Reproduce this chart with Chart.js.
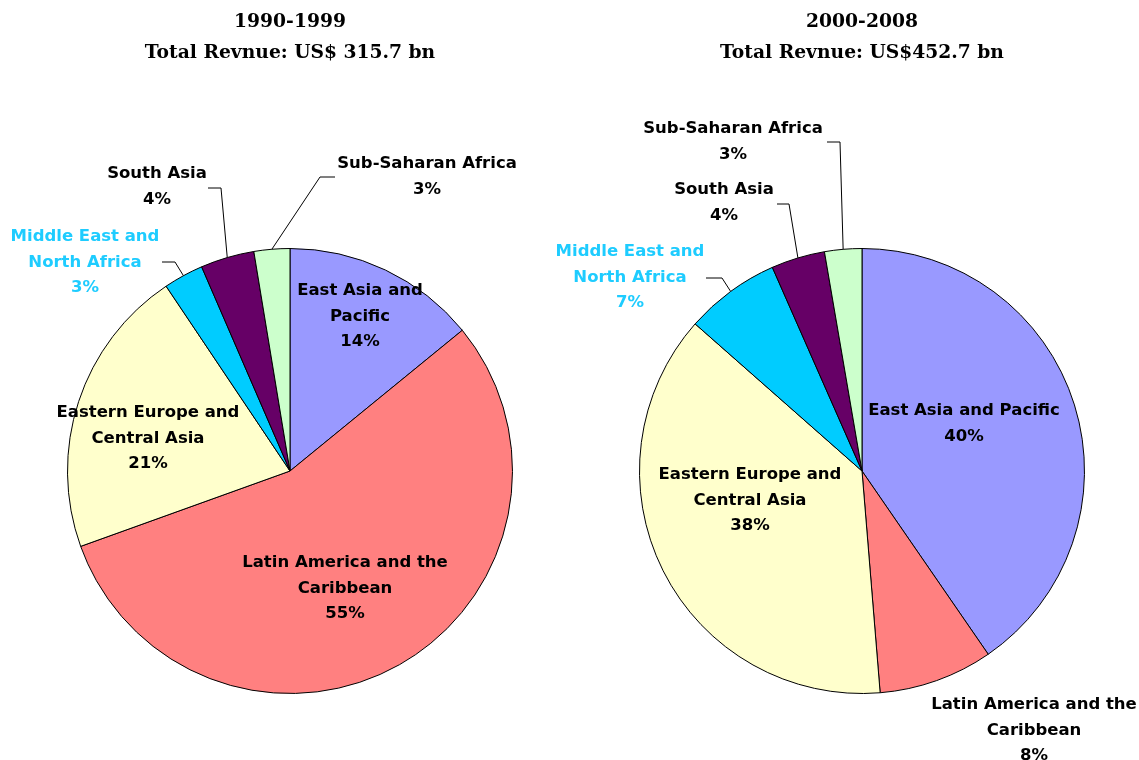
<!DOCTYPE html>
<html>
<head>
<meta charset="utf-8">
<script src="https://cdn.jsdelivr.net/npm/chart.js@4/dist/chart.umd.min.js"></script>
<style>
  html, body { margin: 0; padding: 0; background: #ffffff; }
  #wrap { position: relative; width: 1139px; height: 760px; overflow: hidden; }
  canvas { position: absolute; left: 0; top: 0; }
</style>
</head>
<body>
<div id="wrap">
  <canvas id="c1" width="1139" height="760"></canvas>
  <canvas id="c2" width="1139" height="760"></canvas>
</div>
<script>
// ---- data ----
const categories = ['East Asia and Pacific', 'Latin America and the Caribbean', 'Eastern Europe and Central Asia', 'Middle East and North Africa', 'South Asia', 'Sub-Saharan Africa'];
const shares1990 = [14.1, 55.4, 21.1, 2.9, 3.9, 2.6];
const shares2000 = [40.4, 8.3, 37.8, 6.9, 3.9, 2.7];
const title1990 = ['1990-1999', 'Total Revnue: US$ 315.7 bn'];
const title2000 = ['2000-2008', 'Total Revnue: US$452.7 bn'];
const sliceColors = ['#9999FF', '#FF8080', '#FFFFCC', '#00CCFF', '#660066', '#CCFFCC'];
const labelColors = ['#000000', '#000000', '#000000', '#1ECCFF', '#000000', '#000000'];

// ---- label layout (positions only) ----
const layout1990 = [
  { lines: ['East Asia and', 'Pacific'], x: 360, y: 291 },
  { lines: ['Latin America and the', 'Caribbean'], x: 345, y: 563 },
  { lines: ['Eastern Europe and', 'Central Asia'], x: 148, y: 413 },
  { lines: ['Middle East and', 'North Africa'], x: 85, y: 237, leader: [[162, 262], [175, 262]] },
  { lines: ['South Asia'], x: 157, y: 174, leader: [[208, 188], [221, 188]] },
  { lines: ['Sub-Saharan Africa'], x: 427, y: 164, leader: [[335, 177], [320, 177]] }
];
const layout2000 = [
  { lines: ['East Asia and Pacific'], x: 964, y: 411 },
  { lines: ['Latin America and the', 'Caribbean'], x: 1034, y: 705 },
  { lines: ['Eastern Europe and', 'Central Asia'], x: 750, y: 475 },
  { lines: ['Middle East and', 'North Africa'], x: 630, y: 252, leader: [[706, 278], [722, 278]] },
  { lines: ['South Asia'], x: 724, y: 190, leader: [[777, 204], [789, 204]] },
  { lines: ['Sub-Saharan Africa'], x: 733, y: 129, leader: [[827, 142], [840, 142]] }
];

const labelPlugin = {
  id: 'sliceLabels',
  afterDatasetsDraw(chart, args, opts) {
    const ctx = chart.ctx;
    const meta = chart.getDatasetMeta(0);
    const data = chart.data.datasets[0].data;
    const total = data.reduce((a, b) => a + b, 0);
    const lay = opts.layout;
    ctx.save();
    meta.data.forEach((arc, i) => {
      const L = lay[i];
      if (L.leader) {
        const mid = (arc.startAngle + arc.endAngle) / 2;
        const ex = arc.x + Math.cos(mid) * arc.outerRadius;
        const ey = arc.y + Math.sin(mid) * arc.outerRadius;
        ctx.beginPath();
        ctx.strokeStyle = '#000';
        ctx.lineWidth = 1;
        ctx.moveTo(L.leader[0][0], L.leader[0][1]);
        for (let k = 1; k < L.leader.length; k++) ctx.lineTo(L.leader[k][0], L.leader[k][1]);
        ctx.lineTo(ex, ey);
        ctx.stroke();
      }
      const pct = Math.round(data[i] / total * 100) + '%';
      const lines = L.lines.concat([pct]);
      ctx.font = 'bold 16.5px "DejaVu Sans"';
      ctx.fillStyle = labelColors[i];
      ctx.textAlign = 'center';
      ctx.textBaseline = 'middle';
      lines.forEach((t, k) => ctx.fillText(t, L.x, L.y + k * 25.5));
    });
    ctx.restore();
  }
};

function makePie(id, values, title, layout, pad) {
  return new Chart(document.getElementById(id), {
    type: 'pie',
    data: {
      labels: categories,
      datasets: [{
        data: values,
        backgroundColor: sliceColors,
        borderColor: '#000000',
        borderWidth: 1
      }]
    },
    options: {
      responsive: false,
      animation: false,
      events: [],
      layout: { padding: pad },
      plugins: {
        legend: { display: false },
        tooltip: { enabled: false },
        title: {
          display: true,
          text: title,
          color: '#000000',
          font: { family: '"DejaVu Serif"', size: 18.7, weight: 'bold', lineHeight: 1.65 },
          padding: { top: 6.6, bottom: 179.7 }
        },
        sliceLabels: { layout: layout }
      }
    },
    plugins: [labelPlugin]
  });
}

makePie('c1', shares1990, title1990, layout1990, { left: 67, right: 626, top: 0, bottom: 66 });
makePie('c2', shares2000, title2000, layout2000, { left: 639, right: 54, top: 0, bottom: 66 });
</script>
</body>
</html>
